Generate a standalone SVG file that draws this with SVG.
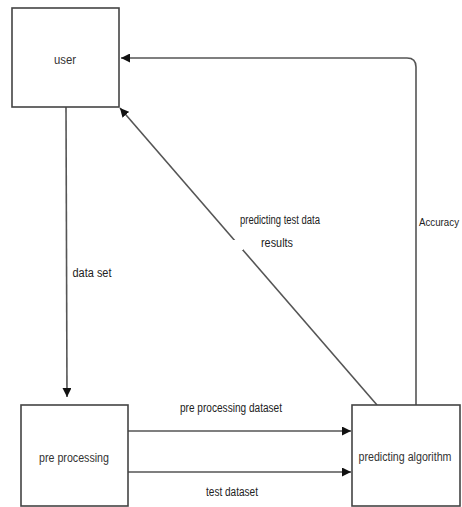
<svg xmlns="http://www.w3.org/2000/svg" width="462" height="507" viewBox="0 0 462 507">
<defs>
<marker id="ah" viewBox="0 0 10 10" refX="10" refY="5" markerWidth="9" markerHeight="9" markerUnits="userSpaceOnUse" orient="auto">
<path d="M0,0 L10,5 L0,10 Z" fill="#111"/>
</marker>
</defs>
<style>
.box{fill:#fff;stroke:#444;stroke-width:1.6}
.edge{fill:none;stroke:#555;stroke-width:1.6;marker-end:url(#ah)}
text{font-family:"Liberation Sans",Arial,sans-serif;font-size:12px;fill:#333;text-anchor:middle}
.lbl{fill:#222}
</style>
<rect width="462" height="507" fill="#fff"/>
<g id="connectors">
<path class="edge" d="M416,405 V67 Q416,58 407,58 H121"/>
<path class="edge" d="M377,405 L120,108"/>
<path class="edge" d="M66,107 L67,397"/>
<path class="edge" d="M128,431 H351"/>
<path class="edge" d="M128,472 H351"/>
<rect x="233" y="240" width="10" height="10" fill="#fff"/>
<text class="lbl" x="280" y="224" textLength="80" lengthAdjust="spacingAndGlyphs">predicting test data</text>
<text class="lbl" x="277" y="247" textLength="32" lengthAdjust="spacingAndGlyphs">results</text>
<text class="lbl" x="439" y="226" style="font-size:10.5px" textLength="40" lengthAdjust="spacingAndGlyphs">Accuracy</text>
<text class="lbl" x="92" y="277" textLength="39" lengthAdjust="spacingAndGlyphs">data set</text>
<text class="lbl" x="231" y="412" textLength="102" lengthAdjust="spacingAndGlyphs">pre processing dataset</text>
<text class="lbl" x="232" y="496" textLength="52" lengthAdjust="spacingAndGlyphs">test dataset</text>
</g>
<g id="user">
<rect class="box" x="12" y="8" width="107" height="99"/>
<text x="65" y="64" textLength="22" lengthAdjust="spacingAndGlyphs">user</text>
</g>
<g id="pre-processing">
<rect class="box" x="21" y="405" width="107" height="101"/>
<text x="74" y="462" textLength="70" lengthAdjust="spacingAndGlyphs">pre processing</text>
</g>
<g id="predicting-algorithm">
<rect class="box" x="352" y="405" width="108" height="101"/>
<text x="405" y="461" textLength="93" lengthAdjust="spacingAndGlyphs">predicting algorithm</text>
</g>
</svg>
